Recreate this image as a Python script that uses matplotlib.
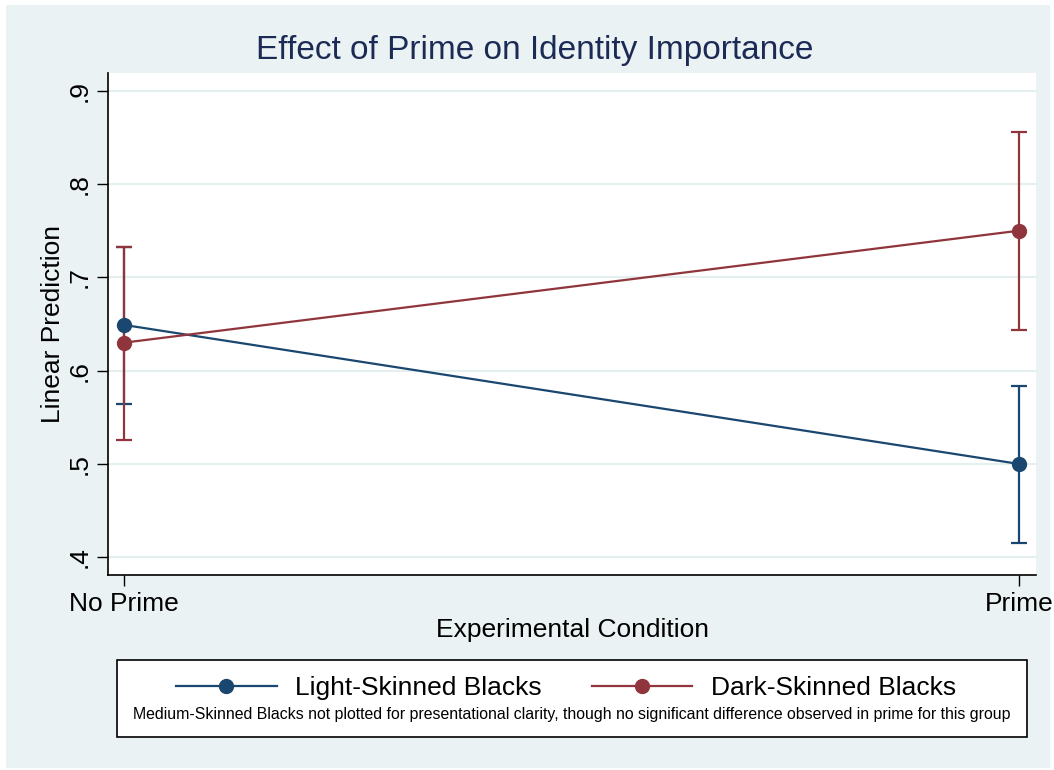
import matplotlib.pyplot as plt
from matplotlib.patches import Rectangle

plt.rcParams['font.family'] = ['Liberation Sans', 'DejaVu Sans']

# predicted values by condition, with 95% CI limits
conditions = ['No Prime', 'Prime']
light = [0.649, 0.500]
light_lo = [0.564, 0.415]
light_hi = [0.733, 0.584]
dark = [0.630, 0.750]
dark_lo = [0.526, 0.644]
dark_hi = [0.733, 0.856]

navy = '#1a476f'
maroon = '#90353b'
bg = '#eaf2f3'

fig = plt.figure(figsize=(10.54, 7.7), dpi=100, facecolor='white')
fig.patches.append(Rectangle((6 / 1054, 2 / 770), 1044 / 1054, 763 / 770,
                             transform=fig.transFigure, facecolor=bg,
                             edgecolor='none', zorder=-2))

ax = fig.add_axes([108 / 1054, 1 - 575 / 770, 928 / 1054, 502 / 770])
ax.set_zorder(2)
x = [0, 1]

for y, lo, hi, c, lab in [(light, light_lo, light_hi, navy, 'Light-Skinned Blacks'),
                          (dark, dark_lo, dark_hi, maroon, 'Dark-Skinned Blacks')]:
    err = [[a - b for a, b in zip(y, lo)], [b - a for a, b in zip(y, hi)]]
    ax.errorbar(x, y, yerr=err, fmt='none', ecolor=c, elinewidth=1.6,
                capsize=6, capthick=1.6, zorder=3)
    ax.plot(x, y, color=c, lw=1.6, marker='o', ms=10, label=lab, zorder=4)

ax.set_xlim(-0.018, 1.019)
ax.set_ylim(0.381, 0.919)
ax.set_xticks(x)
ax.set_xticklabels(conditions, fontsize=19)
ax.set_yticks([0.4, 0.5, 0.6, 0.7, 0.8, 0.9])
ax.set_yticklabels(['.4', '.5', '.6', '.7', '.8', '.9'], fontsize=19,
                   rotation=90, va='center')
ax.tick_params(axis='both', length=8, width=1, color='black', pad=4)
ax.grid(axis='y', color='#e6eff0', lw=1.5)
ax.set_axisbelow(True)
for s in ['top', 'right']:
    ax.spines[s].set_visible(False)
ax.spines['left'].set_linewidth(1.2)
ax.spines['bottom'].set_linewidth(1.2)

ax.set_xlabel('Experimental Condition', fontsize=19, labelpad=2)
ax.set_ylabel('Linear Prediction', fontsize=19, labelpad=2)
fig.text(535 / 1054, 1 - 50 / 770, 'Effect of Prime on Identity Importance',
         ha='center', va='center', fontsize=24, color='#1c2b55')

# legend box with a note underneath the keys
fig.patches.append(Rectangle((117 / 1054, 1 - 737 / 770), 910 / 1054, 77 / 770,
                             transform=fig.transFigure, facecolor='white',
                             edgecolor='black', lw=1.2, zorder=1))
handles, labels = ax.get_legend_handles_labels()
fig.legend(handles, labels, loc='center', bbox_to_anchor=(566 / 1054, 1 - 688 / 770),
           ncol=2, frameon=False, fontsize=19, handlelength=3.8,
           columnspacing=1.9, handletextpad=0.7)
fig.text(572 / 1054, 1 - 714 / 770,
         'Medium-Skinned Blacks not plotted for presentational clarity, '
         'though no significant difference observed in prime for this group',
         ha='center', va='center', fontsize=11.4)

fig.savefig('out.png', dpi=100)
